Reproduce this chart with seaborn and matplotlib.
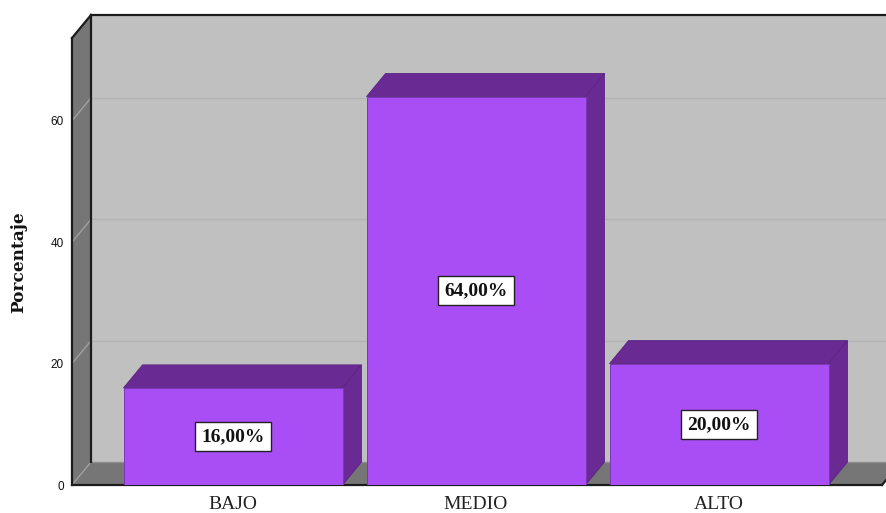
import matplotlib
matplotlib.use("Agg")
import matplotlib.pyplot as plt
from matplotlib.patches import Polygon
import pandas as pd
import seaborn as sns

categories = ["BAJO", "MEDIO", "ALTO"]
percentages = [16.0, 64.0, 20.0]
value_labels = ["16,00%", "64,00%", "20,00%"]
y_ticks = [0, 20, 40, 60]

W, H = 886, 513
LEFT, RIGHT, BOTTOM = 72, 882, 485
PX_PER_UNIT = 6.07
PX_PER_CAT = 243.0
CAT0_PX = 233.0
DEPTH_X_PX, DEPTH_Y_PX = 19, 23
TOP_PX = 38

BACK = "#c0c0c0"
WALL = "#767676"
FRONT = "#a94df5"
SIDE = "#6a2a94"
EDGE = "#1c1c1c"
GRID = "#b3b3b3"

sns.set_theme(style="white")
fig = plt.figure(figsize=(W / 100, H / 100), dpi=100)
ax = fig.add_axes([LEFT / W, 1 - BOTTOM / H, (RIGHT - LEFT) / W, (BOTTOM - TOP_PX) / H])
ax.patch.set_visible(False)

df = pd.DataFrame({"Nivel": categories, "Porcentaje": percentages})
sns.barplot(data=df, x="Nivel", y="Porcentaje", order=categories, color=FRONT, saturation=1,
            width=219 / PX_PER_CAT, linewidth=0.7, edgecolor="#7d35b8", ax=ax, zorder=6)

x0 = (LEFT - CAT0_PX) / PX_PER_CAT
x1 = (RIGHT - CAT0_PX) / PX_PER_CAT
y1 = (BOTTOM - TOP_PX) / PX_PER_UNIT
ax.set_xlim(x0, x1)
ax.set_ylim(0, y1)
dx = DEPTH_X_PX / PX_PER_CAT
dy = DEPTH_Y_PX / PX_PER_UNIT


def poly(pts, fc, ec="none", lw=0, z=1):
    ax.add_patch(Polygon(pts, closed=True, facecolor=fc, edgecolor=ec, linewidth=lw,
                         zorder=z, clip_on=False, joinstyle="miter"))


def line(xs, ys, color=EDGE, lw=1.5, z=3):
    ax.plot(xs, ys, color=color, lw=lw, zorder=z, clip_on=False, solid_capstyle="projecting")


# Back wall, side wall, floor
poly([(x0 + dx, dy), (x1 + dx, dy), (x1 + dx, y1 + dy), (x0 + dx, y1 + dy)], BACK)
poly([(x0, 0), (x0 + dx, dy), (x0 + dx, y1 + dy), (x0, y1)], WALL)
poly([(x0, 0), (x1, 0), (x1 + dx, dy), (x0 + dx, dy)], WALL)

# Gridlines on the wall and the back
for t in y_ticks:
    line([x0, x0 + dx], [t, t + dy], color="#a0a0a0", lw=1.0, z=2)
    if t:
        line([x0 + dx, x1 + dx], [t + dy, t + dy], color=GRID, lw=1.0, z=2)
line([x0 + dx, x1 + dx], [dy, dy], color="#8e8e8e", lw=1.0, z=2)

# Frame
line([x0, x0], [0, y1], lw=1.6)
line([x0 + dx, x0 + dx], [dy, y1 + dy], lw=1.6)
line([x0, x0 + dx], [y1, y1 + dy], lw=1.6)
line([x0 + dx, x1 + dx], [y1 + dy, y1 + dy], lw=1.6)
line([x0, x1], [0, 0], lw=1.6, z=3)
line([x1, x1 + dx], [0, dy], lw=1.6)

# Depth of the bars
half = 219 / PX_PER_CAT / 2
for i, v in enumerate(percentages):
    l, r = i - half, i + half
    poly([(l, v), (r, v), (r + dx, v + dy), (l + dx, v + dy)], SIDE, ec="#5a2580", lw=0.6, z=5)
    poly([(r, 0), (r + dx, dy), (r + dx, v + dy), (r, v)], SIDE, ec="#5a2580", lw=0.6, z=5)
    ax.text(i, v / 2, value_labels[i], ha="center", va="center", zorder=8,
            family="Liberation Serif", fontweight="bold", fontsize=14, color="#111111",
            bbox=dict(boxstyle="square,pad=0.3", fc="white", ec="#222222", lw=1.0))

for s in ax.spines.values():
    s.set_visible(False)
ax.set_yticks(y_ticks)
ax.set_xticks(range(len(categories)))
ax.set_xticklabels(categories, family="Liberation Serif", fontsize=14, color="#222222")
ax.set_yticklabels([str(t) for t in y_ticks], family="Liberation Sans", fontsize=8.5, color="#111111")
ax.tick_params(axis="x", length=0, pad=8)
ax.tick_params(axis="y", length=0, pad=6)
ax.set_xlabel("")
ax.set_ylabel("")
fig.text(19 / W, 1 - 262 / H, "Porcentaje", rotation=90, ha="center", va="center",
         family="DejaVu Serif", fontweight="bold", fontsize=12.2, color="#111111")

fig.savefig("out.png", dpi=100, facecolor="white")
